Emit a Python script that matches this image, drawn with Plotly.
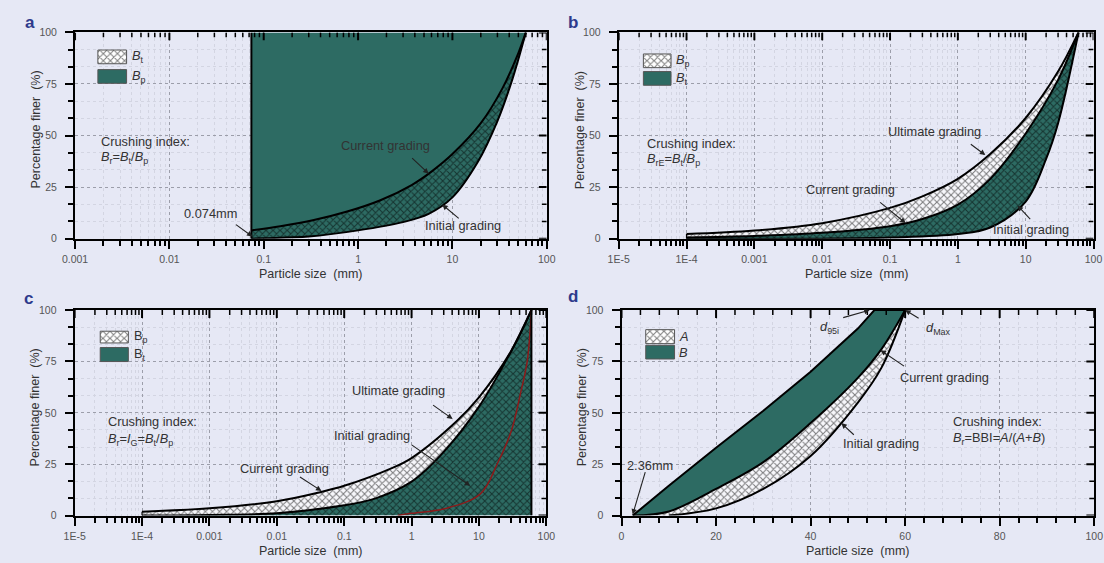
import math
import plotly.graph_objects as go

W, H = 1104, 563
BG = '#E6E8F5'
GREEN = '#2D6B63'
RED = '#8B1A1A'
INK = '#333333'
FONT = 'Liberation Sans, Arial, sans-serif'

# ---------------- data ----------------
D_MAX = 60          # maximum particle size, mm
A_SIZE_MIN = 0.074  # lower bound used in (a), mm

# (a)
a_size_current = [0.074, 0.15, 0.34, 0.75, 1.7, 3.7, 6, 10, 20, 34, 50, 60]
a_pf_current = [4.0, 6.0, 9.0, 13.0, 18.5, 26.0, 32.5, 41.0, 56.0, 73.0, 90.0, 100]
a_size_initial = [0.074, 0.1, 0.3, 1, 3, 5.6, 10, 18.5, 30, 43, 60]
a_pf_initial = [0, 0.2, 1.0, 4, 8, 12, 20, 37, 57, 77, 100]

# (b)
b_size_ultimate = [1e-4, 0.001, 0.01, 0.1, 0.3, 1, 3, 10, 30, 60]
b_pf_ultimate = [2.2, 3.9, 7.5, 14.9, 20.5, 29, 41, 58.5, 81, 100]
b_size_current = [1e-4, 0.001, 0.01, 0.1, 0.3, 1, 3, 10, 30, 60]
b_pf_current = [0.6, 1.3, 2.8, 6.0, 9.5, 16.5, 29, 51, 77, 100]
b_size_initial = [1e-4, 0.01, 0.1, 1, 3, 10, 20, 30, 60]
b_pf_initial = [0, 0, 0.5, 2.2, 5.4, 18, 38.7, 56, 100]

# (c)
c_size_upper = [1e-4, 0.001, 0.01, 0.044, 0.1, 0.5, 1, 4.7, 10, 30, 60]
c_pf_upper = [1.9, 3.6, 7.0, 11.4, 14.5, 23, 28, 46, 57.5, 80, 100]
c_size_middle = [1e-4, 0.001, 0.01, 0.1, 0.3, 1, 3, 10, 30, 60]
c_pf_middle = [0, 0.3, 1.2, 5.0, 8.5, 16.5, 31, 53, 80, 100]
c_size_initial = [0.62, 1, 3.2, 10.5, 19, 30.5, 41, 52, 60]
c_pf_initial = [0, 1.1, 3.5, 10.6, 25.7, 41.6, 59, 75, 100]

# (d) linear scale
d_size_top = [2.36, 10, 20, 30, 40, 50, 53.5, 60]
d_pf_top = [0, 14.5, 33, 51, 70, 91, 100, 100]
d_size_current = [2.36, 10, 20, 30, 40, 50, 55, 60]
d_pf_current = [0, 2, 13, 26, 45, 67, 81, 100]
d_size_initial = [10, 20, 30, 40, 50, 55, 60]
d_pf_initial = [0, 3.5, 13, 29, 55, 72, 100]

# tick labels
a_tickvals = [0.001, 0.01, 0.1, 1, 10, 100]
a_ticktext = ['0.001', '0.01', '0.1', '1', '10', '100']
bc_tickvals = [1e-5, 1e-4, 0.001, 0.01, 0.1, 1, 10, 100]
bc_ticktext = ['1E-5', '1E-4', '0.001', '0.01', '0.1', '1', '10', '100']
d_tickvals = [0, 20, 40, 60, 80, 100]
y_tickvals = [0, 25, 50, 75, 100]

# ---------------- layout geometry (pixels: left, right, top, bottom) ----------------
PANELS = [
    dict(px=(63.3, 544.6, 27.0, 237.7), xtype='log', xrange=[-3, 2], tv=a_tickvals, tt=a_ticktext),
    dict(px=(618.0, 1102.5, 27.0, 237.7), xtype='log', xrange=[-5, 2], tv=bc_tickvals, tt=bc_ticktext),
    dict(px=(62.9, 544.2, 310.7, 520.7), xtype='log', xrange=[-5, 2], tv=bc_tickvals, tt=bc_ticktext),
    dict(px=(620.9, 1103.2, 310.7, 520.7), xtype='linear', xrange=[0, 100], tv=d_tickvals,
         tt=[str(v) for v in d_tickvals]),
]

MAJ_LEN, MAJ_W = 8, 2
MIN_LEN, MIN_W = 5, 1.5


def ak(axis, i):
    return f'{axis}axis' if i == 1 else f'{axis}axis{i}'


def ref(axis, i):
    return axis if i == 1 else f'{axis}{i}'


def log_minor(lo, hi):
    return [m * 10 ** e for e in range(lo, hi) for m in range(2, 10)]


def lin_minor(lo, hi, step, major):
    n = int(round((hi - lo) / step))
    vals = [lo + k * step for k in range(n + 1)]
    return [v for v in vals if all(abs(v - m) > 1e-6 for m in major)]


Y_MINOR = lin_minor(0, 100, 25 / 3, y_tickvals)

HATCH = dict(shape='x', fgcolor='black', bgcolor='rgba(0,0,0,0)', size=5, solidity=0.38)
GRID_MAJ = '#9c9eaa'
GRID_MIN = '#d3d5e2'
TICKFONT = dict(family=FONT, size=10.5, color='#555555')

layout = dict(
    width=W, height=H, margin=dict(l=0, r=0, t=0, b=0),
    paper_bgcolor=BG, plot_bgcolor=BG, showlegend=False,
    font=dict(family=FONT, color=INK),
)

for k, p in enumerate(PANELS):
    i = k + 1
    x0, x1, y0, y1 = p['px']
    xd = [x0 / W, x1 / W]
    yd = [1 - y1 / H, 1 - y0 / H]
    p['xminor'] = (log_minor(p['xrange'][0], p['xrange'][1]) if p['xtype'] == 'log'
                   else lin_minor(0, 100, 4, p['tv']))
    layout[ak('x', i)] = dict(
        domain=xd, anchor=ref('y', i), type=p['xtype'], range=p['xrange'],
        tickmode='array', tickvals=p['tv'], ticktext=p['tt'],
        showline=True, linecolor='black', linewidth=2, mirror=True,
        ticks='outside', ticklen=MAJ_LEN, tickwidth=MAJ_W, tickcolor='black',
        tickfont=TICKFONT, ticklabelstandoff=2,
        showgrid=True, gridcolor=GRID_MAJ, griddash='dot', gridwidth=1, zeroline=False,
        minor=dict(tickmode='array', tickvals=p['xminor'], ticks='outside', ticklen=MIN_LEN,
                   tickwidth=MIN_W, tickcolor='black', showgrid=True, gridcolor=GRID_MIN, gridwidth=1),
        fixedrange=True)
    layout[ak('y', i)] = dict(
        domain=yd, anchor=ref('x', i), type='linear', range=[0, 100],
        tickmode='array', tickvals=y_tickvals,
        showline=True, linecolor='black', linewidth=2, mirror=True,
        ticks='outside', ticklen=MAJ_LEN, tickwidth=MAJ_W, tickcolor='black',
        tickfont=TICKFONT, ticklabelstandoff=6,
        showgrid=True, gridcolor=GRID_MAJ, griddash='dot', gridwidth=1, zeroline=False,
        minor=dict(tickmode='array', tickvals=Y_MINOR, ticks='outside', ticklen=MIN_LEN,
                   tickwidth=MIN_W, tickcolor='black', showgrid=True, gridcolor=GRID_MIN, gridwidth=1),
        fixedrange=True)
    # swatch axes (unit box)
    layout[ak('x', i + 4)] = dict(overlaying=ref('x', i), anchor=ref('y', i + 4),
                                  range=[0, 1], visible=False, fixedrange=True)
    layout[ak('y', i + 4)] = dict(overlaying=ref('y', i), anchor=ref('x', i + 4),
                                  range=[0, 1], visible=False, fixedrange=True)

traces = []


def base(x, y, i, shape='spline'):
    traces.append(go.Scatter(x=x, y=y, mode='lines', line=dict(width=0, shape=shape),
                             xaxis=ref('x', i), yaxis=ref('y', i), hoverinfo='skip'))


def filled(x, y, i, color=None, pattern=None, shape='spline'):
    kw = dict(fill='tonexty', fillcolor=color or 'rgba(0,0,0,0)')
    if pattern:
        kw['fillpattern'] = pattern
    traces.append(go.Scatter(x=x, y=y, mode='lines', line=dict(width=0, shape=shape),
                             xaxis=ref('x', i), yaxis=ref('y', i), hoverinfo='skip', **kw))


def curve(x, y, i, color='black', width=2, shape='spline'):
    traces.append(go.Scatter(x=x, y=y, mode='lines', line=dict(color=color, width=width, shape=shape),
                             xaxis=ref('x', i), yaxis=ref('y', i), hoverinfo='skip'))


# ---- (a)
base(a_size_initial, a_pf_initial, 1)
filled([A_SIZE_MIN, D_MAX], [100, 100], 1, color=GREEN, shape='linear')
base(a_size_initial, a_pf_initial, 1)
filled(a_size_current, a_pf_current, 1, pattern=HATCH)
curve(a_size_current, a_pf_current, 1)
curve(a_size_initial, a_pf_initial, 1)
curve([A_SIZE_MIN, A_SIZE_MIN], [0, 100], 1, shape='linear')

# ---- (b)
base(b_size_initial, b_pf_initial, 2)
filled(b_size_ultimate, b_pf_ultimate, 2, color='#F7F7FB')
base(b_size_initial, b_pf_initial, 2)
filled(b_size_current, b_pf_current, 2, color=GREEN)
base(b_size_initial, b_pf_initial, 2)
filled(b_size_ultimate, b_pf_ultimate, 2, pattern=HATCH)
curve(b_size_ultimate, b_pf_ultimate, 2)
curve(b_size_current, b_pf_current, 2)
curve(b_size_initial, b_pf_initial, 2)
curve([b_size_ultimate[0]] * 2, [0, b_pf_ultimate[0]], 2, width=1.2, shape='linear')

# ---- (c)
c_zero_x = [c_size_upper[0], D_MAX]
c_zero_y = [0, 0]
base(c_zero_x, c_zero_y, 3, shape='linear')
filled(c_size_upper, c_pf_upper, 3, color='#F7F7FB')
base(c_zero_x, c_zero_y, 3, shape='linear')
filled(c_size_middle, c_pf_middle, 3, color=GREEN)
base(c_zero_x, c_zero_y, 3, shape='linear')
filled(c_size_upper, c_pf_upper, 3, pattern=HATCH)
curve(c_size_upper, c_pf_upper, 3)
curve(c_size_middle, c_pf_middle, 3)
curve(c_size_initial, c_pf_initial, 3, color=RED, width=1.5)
curve([D_MAX, D_MAX], [0, 100], 3, shape='linear')
curve([c_size_upper[0]] * 2, [0, c_pf_upper[0]], 3, width=1.2, shape='linear')

# ---- (d)
base(d_size_current, d_pf_current, 4)
filled(d_size_top, d_pf_top, 4, color=GREEN, shape='linear')
base(d_size_initial, d_pf_initial, 4)
filled(d_size_current, d_pf_current, 4, color='#F7F7FB')
base(d_size_initial, d_pf_initial, 4)
filled(d_size_current, d_pf_current, 4, pattern=HATCH)
curve(d_size_top, d_pf_top, 4, shape='linear')
curve(d_size_current, d_pf_current, 4)
curve(d_size_initial, d_pf_initial, 4)

# ---- inward tick marks on the top and right frame edges (Origin style)
for k, p in enumerate(PANELS):
    i = k + 1
    x0, x1, y0, y1 = p['px']
    wpx, hpx = x1 - x0, y1 - y0
    lo, hi = p['xrange']
    for xvals, yvals, ln, wd in [(p['tv'], y_tickvals, MAJ_LEN, MAJ_W),
                                 (p['xminor'], Y_MINOR, MIN_LEN, MIN_W)]:
        xs, ys = [], []
        dy = ln * 100 / hpx
        for v in xvals:
            xs += [v, v, None]
            ys += [100, 100 - dy, None]
        if p['xtype'] == 'log':
            xr = 10 ** hi
            xi = 10 ** (hi - ln * (hi - lo) / wpx)
        else:
            xr = hi
            xi = hi - ln * (hi - lo) / wpx
        for v in yvals:
            xs += [xr, xi, None]
            ys += [v, v, None]
        traces.append(go.Scatter(x=xs, y=ys, mode='lines', line=dict(color='black', width=wd),
                                 xaxis=ref('x', i), yaxis=ref('y', i), hoverinfo='skip',
                                 connectgaps=False))

# ---- legend swatches (pixel boxes -> unit box of each panel)
SWATCHES = [  # panel, (left, top, right, bottom) px, kind
    (1, (86.6, 45, 115.9, 59), 'hatch'), (1, (86.6, 65, 115.9, 79), 'green'),
    (2, (643.2, 49, 671.4, 63), 'hatch'), (2, (643.2, 67, 671.4, 81), 'green'),
    (3, (89.0, 332.3, 117.7, 344.3), 'hatch'), (3, (89.0, 349.0, 117.7, 363.3), 'green'),
    (4, (645.6, 330.7, 675.0, 345.0), 'hatch'), (4, (645.6, 346.7, 675.0, 360.7), 'green'),
]
for i, (l, t, r, b), kind in SWATCHES:
    x0, x1, y0, y1 = PANELS[i - 1]['px']
    fx = lambda v: (v - x0) / (x1 - x0)
    fy = lambda v: (y1 - v) / (y1 - y0)
    xs = [fx(l), fx(r), fx(r), fx(l), fx(l)]
    ys = [fy(t), fy(t), fy(b), fy(b), fy(t)]
    kw = dict(fill='toself', mode='lines', line=dict(color='#555555', width=1),
              xaxis=ref('x', i + 4), yaxis=ref('y', i + 4), hoverinfo='skip')
    if kind == 'hatch':
        kw['fillcolor'] = 'white'
        kw['fillpattern'] = dict(shape='x', fgcolor='black', bgcolor='white', size=5, solidity=0.38)
    else:
        kw['fillcolor'] = GREEN
    traces.append(go.Scatter(x=xs, y=ys, **kw))

# ---------------- annotations ----------------
ann = []
TXT = 12.8


def ptext(txt, x, y, anchor='center', size=TXT, angle=0, color=INK, bold=False):
    if bold:
        txt = f'<b>{txt}</b>'
    ann.append(dict(text=txt, x=x / W, y=1 - y / H, xref='paper', yref='paper',
                    xanchor=anchor, yanchor='middle', showarrow=False, textangle=angle,
                    font=dict(family=FONT, size=size, color=color)))


def arrow(i, hx, hy, ax, ay):
    xv = math.log10(hx) if PANELS[i - 1]['xtype'] == 'log' else hx
    ann.append(dict(text='', x=xv, y=hy, xref=ref('x', i), yref=ref('y', i), ax=ax, ay=ay,
                    showarrow=True, arrowhead=2, arrowsize=1, arrowwidth=1.1, arrowcolor='#222222',
                    standoff=0, startstandoff=0))


# panel letters
for lab, x, y in [('a', 17, 17), ('b', 571, 17), ('c', 16, 299), ('d', 571, 297)]:
    ptext(lab, x, y, size=17, color='#2E3A8C', bold=True)

# axis titles
for p in PANELS:
    x0, x1, y0, y1 = p['px']
    ptext('Particle size  (mm)', (x0 + x1) / 2, y1 + 36, size=12.5)
    ptext('Percentage finer  (%)', x0 - 40, (y0 + y1) / 2 - 6, size=12.5, angle=-90)

# (a)
ptext('Crushing index:', 87.6, 138, 'left')
ptext('<i>B</i><sub>r</sub>=<i>B</i><sub>t</sub>/<i>B</i><sub>p</sub>', 87.6, 155, 'left')
ptext('Current grading', 380, 143)
ptext('Initial grading', 459, 224)
ptext('0.074mm', 202, 212)
ptext('<i>B</i><sub>t</sub>', 119, 52, 'left')
ptext('<i>B</i><sub>p</sub>', 119, 72, 'left')
arrow(1, 5.6, 31.5, -18, -17)
arrow(1, 7.8, 16.5, 18, 15)
arrow(1, 0.076, 1.0, -18, -13)

# (b)
ptext('Crushing index:', 644.6, 140, 'left')
ptext('<i>B</i><sub>rE</sub>=<i>B</i><sub>t</sub>/<i>B</i><sub>p</sub>', 644.6, 157, 'left')
ptext('Ultimate grading', 940, 128)
ptext('Current grading', 855, 187)
ptext('Initial grading', 1039, 228)
ptext('<i>B</i><sub>p</sub>', 674, 56, 'left')
ptext('<i>B</i><sub>t</sub>', 674, 74, 'left')
arrow(2, 2.54, 40.5, -16, -12)
arrow(2, 0.17, 7.5, -27, -22)
arrow(2, 7.6, 16, 14, 15)

# (c)
ptext('Crushing index:', 95, 425, 'left')
ptext('<i>B</i><sub>r</sub>=<i>I</i><sub>G</sub>=<i>B</i><sub>t</sub>/<i>B</i><sub>p</sub>', 95, 443, 'left')
ptext('Ultimate grading', 393, 393)
ptext('Initial grading', 366, 439)
ptext('Current grading', 277, 473)
ptext('B<sub>p</sub>', 121, 338, 'left')
ptext('B<sub>t</sub>', 121, 356, 'left')
arrow(3, 4.06, 47, -21, -15)
arrow(3, 7.4, 14.5, -60, -42)
arrow(3, 0.046, 12, -23, -15)

# (d)
ptext('<i>d</i><sub>95i</sub>', 833, 328)
ptext('<i>d</i><sub>Max</sub>', 944, 330)
ptext('Current grading', 950, 380)
ptext('Initial grading', 886, 447)
ptext('Crushing index:', 956.6, 425, 'left')
ptext('<i>B</i><sub>r</sub>=BBI=<i>A</i>/(<i>A</i>+<i>B</i>)', 956.6, 442, 'left')
ptext('2.36mm', 650, 470)
ptext('<i>A</i>', 678, 338, 'left')
ptext('<i>B</i>', 678, 354, 'left')
arrow(4, 52.5, 100, -28, 8)
arrow(4, 60, 100, 15, 9)
arrow(4, 54.8, 80.5, 25, 17)
arrow(4, 46.5, 45, 14, 13)
arrow(4, 2.36, 0.5, 13, -44)

layout['annotations'] = ann

fig = go.Figure(data=traces, layout=layout)
fig.write_html('out.html')
